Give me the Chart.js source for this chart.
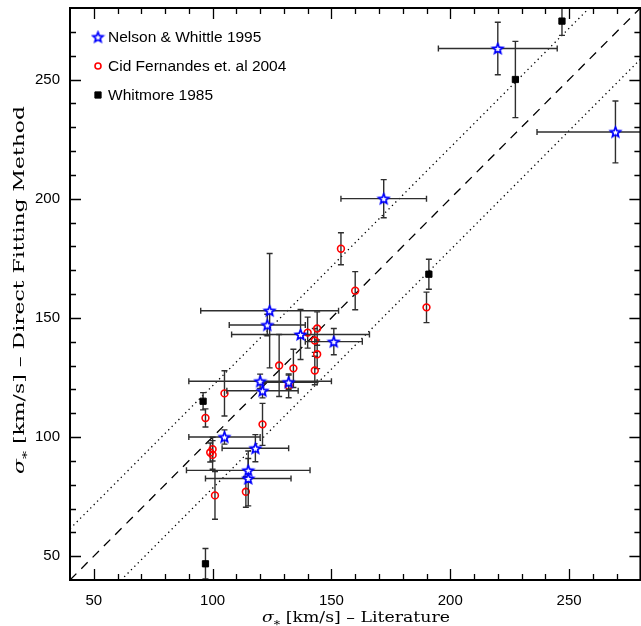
<!DOCTYPE html>
<html>
<head>
<meta charset="utf-8">
<script src="https://cdn.jsdelivr.net/npm/chart.js@4.4.0/dist/chart.umd.min.js"></script>
<style>
  html, body { margin: 0; padding: 0; background: #fff; overflow: hidden; }
  canvas { display: block; }
</style>
</head>
<body>
<canvas id="sigmaChart" width="647" height="626"></canvas>
<script>
// Nelson & Whittle 1995 (stars)
const nwLit    = [220, 269.5, 172, 124, 123, 137, 151, 120, 132, 121, 105, 118, 115, 115];
const nwDirect = [263, 228, 200, 153, 147, 143, 140, 123.4, 123, 119.4, 100, 95.3, 86, 82.6];
const nwLitErr = [25, 33, 18, 29, 16, 29, 12, 30, 12, 15, 15, 14, 26, 18];
const nwDirErr = [11, 13, 8, 24, 4.5, 10.5, 5.5, 3, 3, 3, 3, 5.7, 5, 11.5];

// Cid Fernandes et al. 2004 (open circles)
const cfLit    = [154, 160, 190, 140, 144, 143, 144, 143, 128, 134, 132, 105, 97, 121, 100, 99, 100, 114, 101];
const cfDirect = [179, 161.4, 154.4, 143.8, 145.5, 140.5, 134.7, 127.9, 130, 128.8, 121.5, 118.3, 108, 105.3, 94.9, 93.5, 92.5, 77, 75.5];
const cfDirErr = [6.7, 8, 6.4, 6.5, 7, 5, 6, 6, 13, 8, 5, 9.5, 3.8, 8.8, 5, 4, 6, 6.5, 10];

// Whitmore 1985 (filled squares)
const whLit    = [247, 227.4, 191, 96, 97];
const whDirect = [274.5, 250, 168.3, 115, 46.8];
const whDirErr = [6, 16, 6.3, 3.6, 6.4];

// axes
const axisMin = 40;
const axisMax = 280;
const tickLabels = [50, 100, 150, 200, 250];
const bandOffset = 21.5;   // dotted lines at y = x +/- offset

function makeStar(r, color) {
  const c = document.createElement('canvas');
  const s = Math.ceil(r * 2 + 4);
  c.width = s; c.height = s;
  const g = c.getContext('2d');
  g.translate(s / 2, s / 2 + 0.5);
  g.beginPath();
  for (let k = 0; k < 10; k++) {
    const rr = k % 2 ? r * 0.45 : r;
    const a = -Math.PI / 2 + k * Math.PI / 5;
    g.lineTo(rr * Math.cos(a), rr * Math.sin(a));
  }
  g.closePath();
  g.fillStyle = '#fff';
  g.fill();
  g.strokeStyle = color;
  g.lineWidth = 1.7;
  g.stroke();
  return c;
}

const starImg = makeStar(5.3, '#0000ff');

function points(xs, ys, xErr, yErr) {
  return xs.map((x, i) => ({ x: x, y: ys[i], xErr: xErr ? xErr[i] : 0, yErr: yErr ? yErr[i] : 0 }));
}

const errorBars = {
  id: 'errorBars',
  beforeDatasetDraw(chart, args) {
    const ds = chart.data.datasets[args.index];
    if (!ds.hasErrors) return;
    const { ctx, chartArea: a, scales: { x, y } } = chart;
    const cap = 3;
    ctx.save();
    ctx.beginPath();
    ctx.rect(a.left, a.top, a.right - a.left, a.bottom - a.top);
    ctx.clip();
    ctx.strokeStyle = '#2e2e2e';
    ctx.lineWidth = 1.4;
    ds.data.forEach(p => {
      const px = x.getPixelForValue(p.x);
      const py = y.getPixelForValue(p.y);
      ctx.beginPath();
      if (p.yErr) {
        const y1 = y.getPixelForValue(p.y - p.yErr);
        const y2 = y.getPixelForValue(p.y + p.yErr);
        ctx.moveTo(px, y1); ctx.lineTo(px, y2);
        ctx.moveTo(px - cap, y1); ctx.lineTo(px + cap, y1);
        ctx.moveTo(px - cap, y2); ctx.lineTo(px + cap, y2);
      }
      if (p.xErr) {
        const x1 = x.getPixelForValue(p.x - p.xErr);
        const x2 = x.getPixelForValue(p.x + p.xErr);
        ctx.moveTo(x1, py); ctx.lineTo(x2, py);
        ctx.moveTo(x1, py - cap); ctx.lineTo(x1, py + cap);
        ctx.moveTo(x2, py - cap); ctx.lineTo(x2, py + cap);
      }
      ctx.stroke();
    });
    ctx.restore();
  }
};

// box frame with inward ticks on all four sides
const frameTicks = {
  id: 'frameTicks',
  afterDatasetsDraw(chart) {
    const { ctx, chartArea: a, scales: { x, y } } = chart;
    ctx.save();
    ctx.strokeStyle = '#000';
    ctx.lineWidth = 1.3;
    ctx.beginPath();
    for (let v = axisMin + 10; v < axisMax; v += 10) {
      const len = v % 50 === 0 ? 11 : 6;
      const px = Math.round(x.getPixelForValue(v)) + 0.5;
      ctx.moveTo(px, a.bottom); ctx.lineTo(px, a.bottom - len);
      ctx.moveTo(px, a.top); ctx.lineTo(px, a.top + len);
      const py = Math.round(y.getPixelForValue(v)) + 0.5;
      ctx.moveTo(a.left, py); ctx.lineTo(a.left + len, py);
      ctx.moveTo(a.right, py); ctx.lineTo(a.right - len, py);
    }
    ctx.stroke();
    ctx.lineWidth = 2;
    ctx.strokeRect(a.left, a.top, a.right - a.left, a.bottom - a.top);
    ctx.restore();
  }
};

// legend inside the plot, top-left
const innerLegend = {
  id: 'innerLegend',
  afterDraw(chart) {
    const { ctx, chartArea: a } = chart;
    ctx.save();
    ctx.font = '15.5px "Liberation Sans", Arial, sans-serif';
    ctx.textBaseline = 'middle';
    let row = 0;
    chart.data.datasets.forEach(ds => {
      if (!ds.hasErrors) return;
      const cx = a.left + 28;
      const cy = a.top + 29 + row * 29;
      ctx.strokeStyle = ds.borderColor;
      ctx.fillStyle = ds.backgroundColor;
      ctx.lineWidth = ds.borderWidth;
      Chart.helpers.drawPoint(ctx, {
        pointStyle: ds.pointStyle,
        radius: ds.legendRadius,
        rotation: 0,
        borderWidth: ds.borderWidth
      }, cx, cy);
      ctx.fillStyle = '#000';
      ctx.fillText(ds.label, cx + 10, cy + 1);
      row++;
    });
    ctx.restore();
  }
};

// axis title with a subscript star, stretched along the baseline to a target length
function drawSigmaTitle(ctx, rest, cx, cy, size, length, rotate) {
  ctx.save();
  ctx.translate(cx, cy);
  if (rotate) ctx.rotate(-Math.PI / 2);
  ctx.fillStyle = '#000';
  ctx.textBaseline = 'alphabetic';
  const fMain = size + 'px "DejaVu Serif", serif';
  const fSig = 'italic ' + size + 'px "DejaVu Serif", serif';
  const fSub = Math.round(size * 0.75) + 'px "DejaVu Serif", serif';
  ctx.font = fSig; const wSig = ctx.measureText('σ').width;
  ctx.font = fSub; const wSub = ctx.measureText('*').width;
  ctx.font = fMain; const wRest = ctx.measureText(rest).width;
  const total = wSig + wSub + wRest;
  ctx.scale(length / total, 1);
  let x0 = -total / 2;
  const base = size * 0.35;
  ctx.font = fSig; ctx.fillText('σ', x0, base); x0 += wSig;
  ctx.font = fSub; ctx.fillText('*', x0, base + size * 0.35); x0 += wSub;
  ctx.font = fMain; ctx.fillText(rest, x0, base);
  ctx.restore();
}

const axisTitles = {
  id: 'axisTitles',
  afterDraw(chart) {
    const { ctx } = chart;
    drawSigmaTitle(ctx, ' [km/s] – Literature', 356, 617, 15, 188, false);
    drawSigmaTitle(ctx, ' [km/s] – Direct Fitting Method', 19, 290, 15, 368, true);
  }
};

function noPadding(s) {
  s.paddingTop = 0; s.paddingBottom = 0; s.paddingLeft = 0; s.paddingRight = 0;
}

const lineX = [axisMin, axisMax];

new Chart(document.getElementById('sigmaChart').getContext('2d'), {
  type: 'scatter',
  data: {
    datasets: [
      {
        label: 'Nelson & Whittle 1995',
        data: points(nwLit, nwDirect, nwLitErr, nwDirErr),
        hasErrors: true,
        pointStyle: starImg,
        pointRadius: 5,
        legendRadius: 5,
        borderColor: '#0000ff',
        backgroundColor: '#ffffff',
        borderWidth: 1.6,
        order: 1
      },
      {
        label: 'Cid Fernandes et. al 2004',
        data: points(cfLit, cfDirect, null, cfDirErr),
        hasErrors: true,
        pointStyle: 'circle',
        pointRadius: 3.4,
        legendRadius: 3,
        borderColor: '#ff0000',
        backgroundColor: 'rgba(255,255,255,0)',
        borderWidth: 1.6,
        order: 2
      },
      {
        label: 'Whitmore 1985',
        data: points(whLit, whDirect, null, whDirErr),
        hasErrors: true,
        pointStyle: 'rect',
        pointRadius: 4.4,
        legendRadius: 4.4,
        borderColor: '#000000',
        backgroundColor: '#000000',
        borderWidth: 1,
        order: 3
      },
      {
        type: 'line',
        label: 'one-to-one',
        data: lineX.map(v => ({ x: v, y: v })),
        borderColor: '#000',
        borderWidth: 1.3,
        borderDash: [9, 7],
        pointRadius: 0,
        order: 10
      },
      {
        type: 'line',
        label: 'upper',
        data: lineX.map(v => ({ x: v, y: v + bandOffset })),
        borderColor: '#000',
        borderWidth: 1.3,
        borderDash: [1.3, 3.5],
        pointRadius: 0,
        order: 10
      },
      {
        type: 'line',
        label: 'lower',
        data: lineX.map(v => ({ x: v, y: v - bandOffset })),
        borderColor: '#000',
        borderWidth: 1.3,
        borderDash: [1.3, 3.5],
        pointRadius: 0,
        order: 10
      }
    ]
  },
  options: {
    responsive: false,
    animation: false,
    events: [],
    layout: { padding: { top: 8, right: 1, left: 0, bottom: 0 } },
    plugins: {
      legend: { display: false },
      tooltip: { enabled: false }
    },
    scales: {
      x: {
        type: 'linear',
        min: axisMin,
        max: axisMax,
        grid: { display: false, drawTicks: false },
        border: { display: false },
        afterBuildTicks: s => { s.ticks = tickLabels.map(v => ({ value: v })); },
        afterFit: s => { s.height = 46; noPadding(s); },
        ticks: {
          autoSkip: false,
          maxRotation: 0,
          padding: 12,
          color: '#000',
          font: { family: '"Liberation Sans", Arial, sans-serif', size: 15 }
        }
      },
      y: {
        type: 'linear',
        min: axisMin,
        max: axisMax,
        grid: { display: false, drawTicks: false },
        border: { display: false },
        afterBuildTicks: s => { s.ticks = tickLabels.map(v => ({ value: v })); },
        afterFit: s => { s.width = 70; noPadding(s); },
        ticks: {
          autoSkip: false,
          padding: 10,
          color: '#000',
          font: { family: '"Liberation Sans", Arial, sans-serif', size: 15 }
        }
      }
    }
  },
  plugins: [errorBars, frameTicks, innerLegend, axisTitles]
});
</script>
</body>
</html>
